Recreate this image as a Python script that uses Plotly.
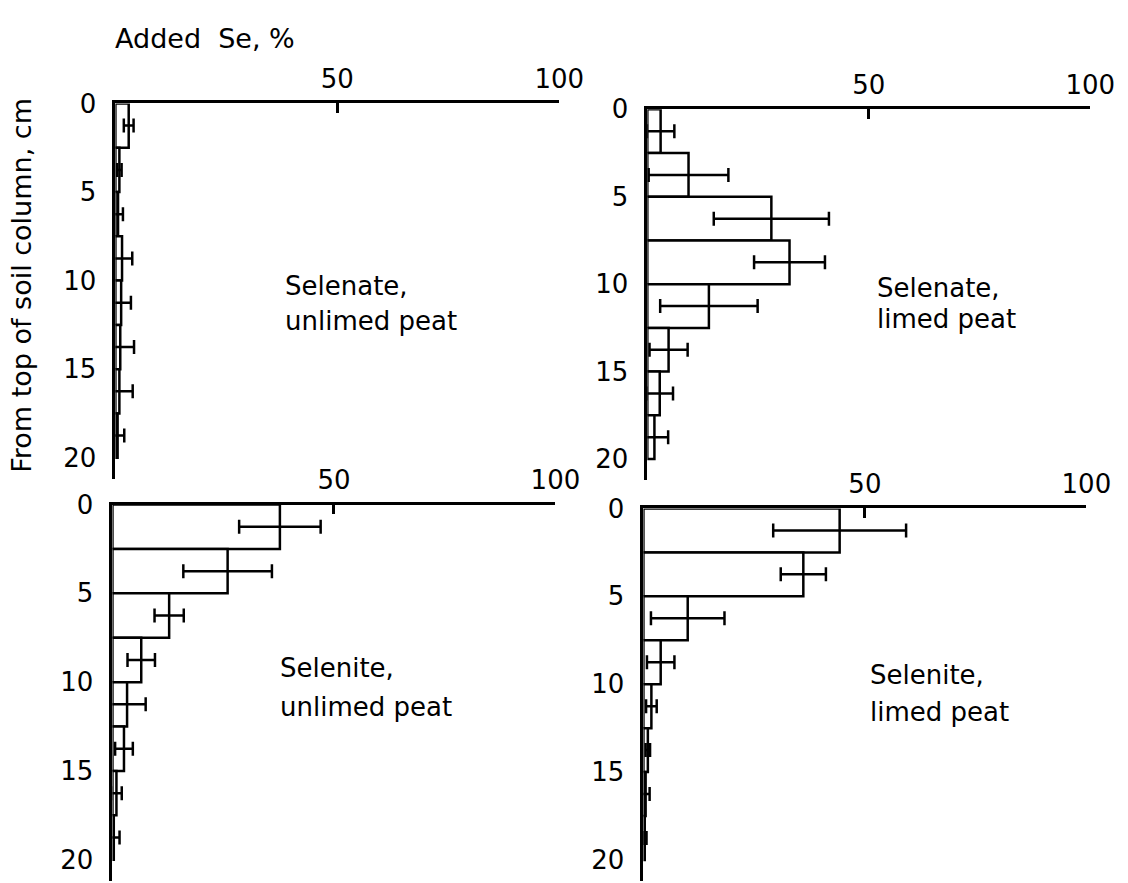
import plotly.graph_objects as go

# ---- data ----
depth_mid = [1.25, 3.75, 6.25, 8.75, 11.25, 13.75, 16.25, 18.75]   # cm, layer centres
layer_thickness = 2.5                                               # cm

selenate_unlimed = [3.0, 0.9, 0.6, 1.5, 1.3, 1.1, 0.9, 0.5]
selenate_unlimed_err = [1.1, 0.5, 1.1, 2.3, 2.2, 3.1, 3.0, 1.5]

selenate_limed = [3.0, 9.3, 28.0, 32.1, 13.9, 4.8, 2.8, 1.6]
selenate_limed_err = [3.1, 9.0, 13.0, 8.0, 11.0, 4.3, 3.0, 3.1]

selenite_unlimed = [37.8, 26.0, 12.8, 6.5, 3.3, 2.6, 0.9, 0.3]
selenite_unlimed_err = [9.2, 10.0, 3.3, 3.1, 4.2, 2.0, 1.2, 1.3]

selenite_limed = [44.3, 36.1, 10.0, 3.9, 1.8, 1.0, 0.5, 0.3]
selenite_limed_err = [15.0, 5.1, 8.3, 3.1, 1.2, 0.5, 0.9, 0.4]

x_ticks = [50, 100]
x_ticktext = ["50", "100"]
y_ticks = [0, 5, 10, 15, 20]
y_ticktext = ["0", "5", "10", "15", "20"]

panels = [
    ("Selenate,", "unlimed peat", selenate_unlimed, selenate_unlimed_err),
    ("Selenate,", "limed peat", selenate_limed, selenate_limed_err),
    ("Selenite,", "unlimed peat", selenite_unlimed, selenite_unlimed_err),
    ("Selenite,", "limed peat", selenite_limed, selenite_limed_err),
]

# ---- layout geometry (pixels) ----
W, H = 1128, 883
# (x0px, x100px, top px, bottom px)
geom = [
    (118, 572, 90, 472),
    (662, 1115, 96, 473),
    (115, 568, 498, 881),
    (658, 1111, 502, 881),
]
# label positions in data coords (x %, depth cm)
label_pos = [(37.8, 10.3, 12.3), (51.4, 10.2, 12.0), (37.4, 9.2, 11.4), (50.7, 9.5, 11.6)]

FONT = "DejaVu Sans"
fig = go.Figure()
layout_axes = {}
annotations = []

for i, (l1, l2, vals, errs) in enumerate(panels):
    n = i + 1
    xa = "x" if n == 1 else f"x{n}"
    ya = "y" if n == 1 else f"y{n}"
    fig.add_trace(go.Bar(
        x=vals, y=depth_mid, orientation="h",
        width=[layer_thickness] * len(vals),
        marker=dict(color="white", line=dict(color="black", width=2.5)),
        error_x=dict(type="data", array=errs, visible=True,
                     color="black", thickness=2.5, width=7),
        xaxis=xa, yaxis=ya, showlegend=False,
    ))
    x0, x1, t, b = geom[i]
    xkey = "xaxis" if n == 1 else f"xaxis{n}"
    ykey = "yaxis" if n == 1 else f"yaxis{n}"
    layout_axes[xkey] = dict(
        domain=[x0 / W, x1 / W], anchor=ya, side="top",
        range=[0, 100], tickvals=x_ticks, ticktext=x_ticktext,
        ticks="inside", ticklen=10, tickwidth=2.5, tickcolor="black",
        showline=True, linecolor="black", linewidth=2.8,
        showgrid=False, zeroline=False,
        tickfont=dict(family=FONT, size=26, color="black"),
        ticklabelstandoff=2,
    )
    layout_axes[ykey] = dict(
        domain=[1 - b / H, 1 - t / H], anchor=xa,
        range=[21.2, 0], tickvals=y_ticks, ticktext=y_ticktext,
        ticks="", showline=True, linecolor="black", linewidth=2.8,
        showgrid=False, zeroline=False,
        tickfont=dict(family=FONT, size=26, color="black"),
        ticklabelstandoff=11,
    )
    lx, ly1, ly2 = label_pos[i]
    for txt, yy in ((l1, ly1), (l2, ly2)):
        annotations.append(dict(
            x=lx, y=yy, xref=xa, yref=ya, text=txt, showarrow=False,
            xanchor="left", yanchor="middle",
            font=dict(family=FONT, size=26, color="black"),
        ))

annotations.append(dict(
    x=116 / W, y=1 - 24 / H, xref="paper", yref="paper",
    text="Added&nbsp;&nbsp;Se, %", showarrow=False,
    xanchor="left", yanchor="middle",
    font=dict(family=FONT, size=27, color="black"),
))
annotations.append(dict(
    x=22 / W, y=1 - 275 / H, xref="paper", yref="paper",
    text="From top of soil column, cm", showarrow=False, textangle=-90,
    xanchor="center", yanchor="middle",
    font=dict(family=FONT, size=27, color="black"),
))

fig.update_layout(
    width=W, height=H, autosize=False,
    margin=dict(l=0, r=0, t=0, b=0),
    paper_bgcolor="white", plot_bgcolor="white",
    barmode="overlay", annotations=annotations,
    **layout_axes,
)

fig.write_html("out.html")
